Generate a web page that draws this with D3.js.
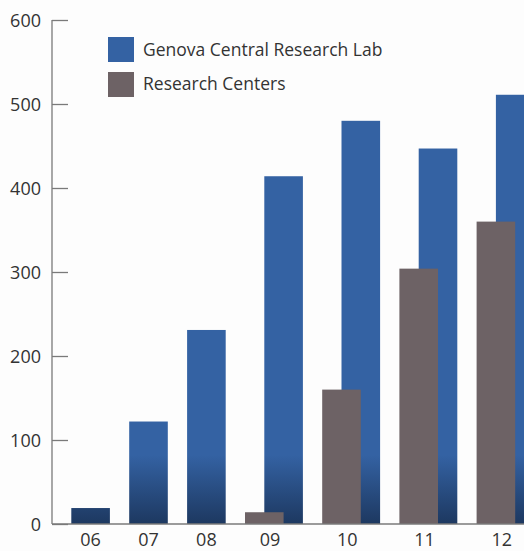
<!DOCTYPE html>
<html><head><meta charset="utf-8">
<script src="https://cdn.jsdelivr.net/npm/d3@7"></script>
<style>
html,body{margin:0;padding:0;background:#fdfdfd;overflow:hidden}
svg{display:block}
text{font-family:"Open Sans","Noto Sans",sans-serif;fill:#333}
</style></head>
<body>
<script>
const years = ["06","07","08","09","10","11","12"];
const genovaLab = [19, 122, 231, 414, 480, 447, 511];
const researchCenters = [null, null, null, 14, 160, 304, 360];
const yTicks = [0, 100, 200, 300, 400, 500, 600];
const seriesNames = ["Genova Central Research Lab", "Research Centers"];

const W = 524, H = 551;
const svg = d3.select("body").append("svg").attr("width", W).attr("height", H);

const defs = svg.append("defs");
const gb = defs.append("linearGradient").attr("id","gBlue")
  .attr("gradientUnits","userSpaceOnUse").attr("x1",0).attr("x2",0).attr("y1",455).attr("y2",524);
gb.append("stop").attr("offset","0%").attr("stop-color","#3462a3");
gb.append("stop").attr("offset","100%").attr("stop-color","#1d3860");

const axisX = 52, baseY = 524;
const y = d3.scaleLinear().domain([0, 600]).range([baseY, 20]);

// unit layout: gap 1 unit, bars 2 units wide, grey bar offsets blue by 1 unit
const layout = [];
let u = 1;
years.forEach((yr, i) => {
  const hasGrey = researchCenters[i] != null;
  layout.push({yr, i, start: u, hasGrey});
  u += hasGrey ? 4 : 3;
});
const unitPx = 19.3;
const x = d3.scaleLinear().domain([0, u]).range([axisX, axisX + u * unitPx]);

const bars = svg.append("g");
layout.forEach(d => {
  const bStart = d.hasGrey ? d.start + 1 : d.start;
  bars.append("rect")
    .attr("x", x(bStart)).attr("width", x(bStart + 2) - x(bStart))
    .attr("y", y(genovaLab[d.i])).attr("height", baseY - y(genovaLab[d.i]))
    .attr("fill", "url(#gBlue)");
  if (d.hasGrey) {
    bars.append("rect")
      .attr("x", x(d.start)).attr("width", x(d.start + 2) - x(d.start))
      .attr("y", y(researchCenters[d.i])).attr("height", baseY - y(researchCenters[d.i]))
      .attr("fill", "#6d6265");
  }
  const lc = d.hasGrey ? d.start + 1.3 : d.start + 1;
  svg.append("text").attr("x", x(lc)).attr("y", 546)
    .attr("text-anchor","middle").attr("font-size", 18).text(d.yr);
});

// y axis
const yAxis = d3.axisRight(y).tickValues(yTicks).tickSize(16).tickFormat("");
const ag = svg.append("g").attr("transform", `translate(${axisX},0)`).call(yAxis);
ag.select(".domain").remove();
ag.selectAll(".tick line").attr("stroke","#7a7a7a").attr("stroke-width",1.3);
svg.append("line").attr("x1",axisX).attr("x2",axisX).attr("y1",y(600)).attr("y2",baseY)
  .attr("stroke","#7a7a7a").attr("stroke-width",1.3);
svg.append("line").attr("x1",axisX).attr("x2",W).attr("y1",baseY).attr("y2",baseY)
  .attr("stroke","#7a7a7a").attr("stroke-width",1.3);
yTicks.forEach(t => {
  svg.append("text").attr("x", 41).attr("y", y(t) + 7)
    .attr("text-anchor","end").attr("font-size", 18).text(t);
});

// legend
const leg = svg.append("g");
["#3462a3","#6d6265"].forEach((c, k) => {
  leg.append("rect").attr("x",108).attr("y",37 + k*35).attr("width",26).attr("height",25).attr("fill",c);
  leg.append("text").attr("x",143).attr("y",56 + k*34).attr("font-size",17.5).text(seriesNames[k]);
});
</script>
</body></html>
